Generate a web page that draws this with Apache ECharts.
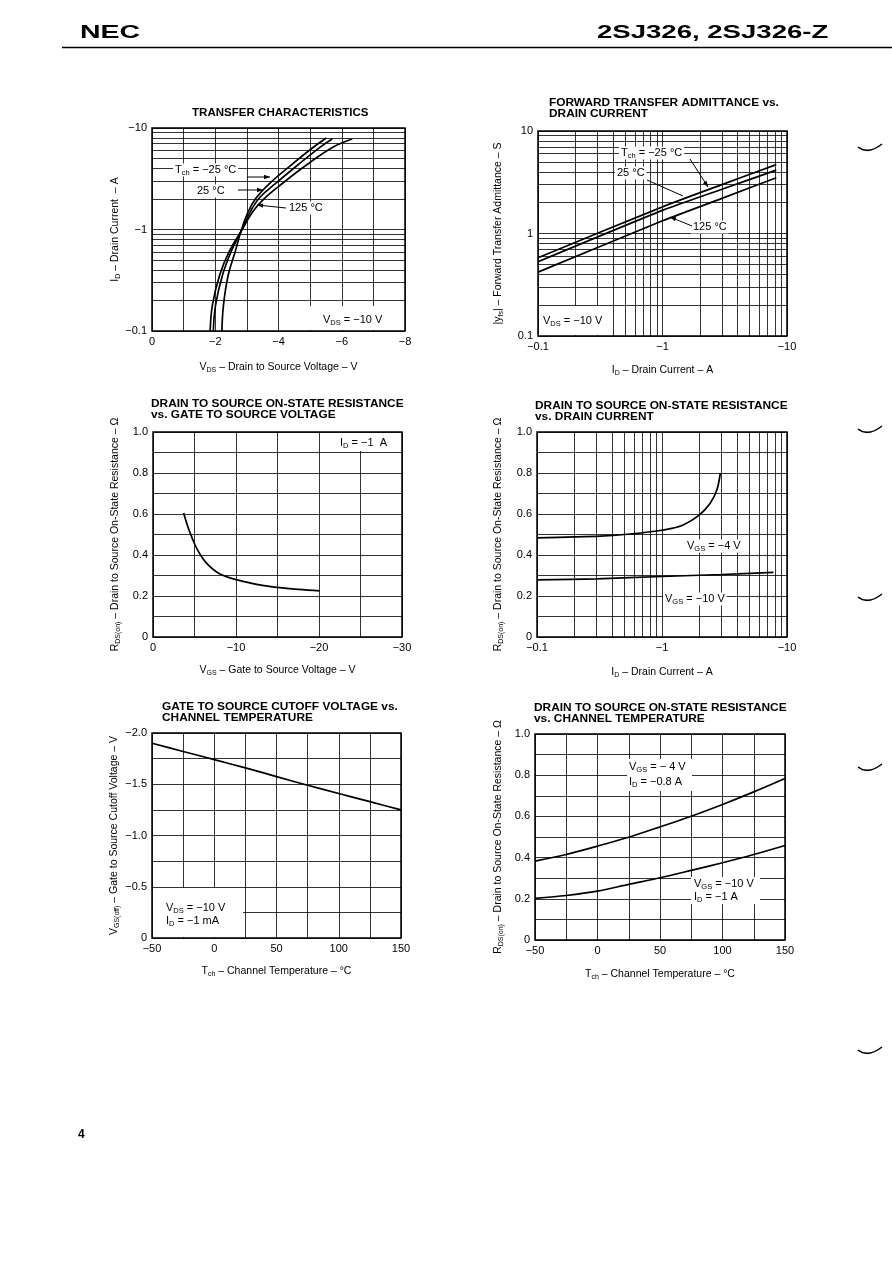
<!DOCTYPE html>
<html><head><meta charset="utf-8">
<script src="https://cdn.jsdelivr.net/npm/echarts@6/dist/echarts.min.js"></script>
<style>html,body{margin:0;padding:0;background:#fff}#c{width:892px;height:1263px}</style>
</head><body><div id="c"></div><script>
const FONT = '"Liberation Sans", Arial, Helvetica, sans-serif';
const MINUS = '\u2212';

// ---- Chart 1: Transfer characteristics (VGS in V, |ID| in A, ID negative) ----
const tc_vgs_m25  = [-2.21,-2.26,-2.41,-2.63,-2.81,-3.04,-3.29,-3.73,-4.43,-5.09,-5.51];
const tc_id_m25   = [0.10,0.180,0.356,0.604,0.951,1.49,2.04,2.87,4.39,6.42,7.97];
const tc_vgs_25   = [-1.94,-2.01,-2.23,-2.50,-2.81,-3.12,-3.42,-3.89,-4.59,-5.32,-5.70];
const tc_id_25    = [0.10,0.180,0.356,0.604,0.951,1.52,2.09,2.81,4.27,6.49,7.79];
const tc_vgs_125  = [-1.84,-1.91,-2.14,-2.44,-2.81,-3.18,-3.54,-4.02,-4.84,-5.73,-6.33];
const tc_id_125   = [0.10,0.180,0.356,0.604,0.951,1.49,2.00,2.68,4.22,6.49,7.79];

// ---- Chart 2: |yfs| vs |ID| ----
const yfs_id      = [0.1, 1, 3, 8.2];
const yfs_m25     = [0.58, 1.82, 3.00, 4.70];
const yfs_25      = [0.53, 1.68, 2.70, 4.15];
const yfs_125     = [0.42, 1.33, 2.20, 3.50];

// ---- Chart 3: RDS(on) vs VGS (ID = -1 A) ----
const rv_vgs = [-3.69,-4.10,-4.50,-5.00,-5.50,-6.00,-6.50,-7.00,-7.50,-8.00,-9.00,-10.0,-12.5,-15.0,-17.5,-20.08];
const rv_rds = [0.605,0.550,0.505,0.455,0.415,0.383,0.358,0.338,0.322,0.309,0.292,0.280,0.257,0.242,0.232,0.225];

// ---- Chart 4: RDS(on) vs |ID| ----
const ri_id_4   = [0.1,0.2,0.32,0.5,0.88,1.2,1.49,1.96,2.43,2.75,2.93];
const ri_rds_4  = [0.484,0.488,0.492,0.50,0.516,0.53,0.548,0.592,0.653,0.718,0.80];
const ri_id_10  = [0.1,0.3,1,3,7.8];
const ri_rds_10 = [0.279,0.284,0.295,0.305,0.315];

// ---- Chart 5: VGS(off) vs Tch ----
const temps     = [-50,-25,0,25,50,75,100,125,150];
const vgsoff    = [-1.90,-1.82,-1.74,-1.66,-1.575,-1.49,-1.41,-1.33,-1.25];

// ---- Chart 6: RDS(on) vs Tch ----
const rt_vgs4   = [0.383,0.415,0.456,0.499,0.549,0.601,0.658,0.719,0.784];
const rt_vgs10  = [0.202,0.216,0.237,0.27,0.302,0.338,0.375,0.415,0.459];

function zip(xs, ys){ return xs.map((x,i)=>[x, ys[i]]); }
function num(v){ return String(Number(Number(v).toPrecision(3))); }
const negMag = v => (v === 0 ? '0' : MINUS + num(Math.abs(v)));
const plainLog = v => num(v);
const oneDec = v => (v === 0 ? '0' : Number(v).toFixed(1));
const negOneDec = v => (v === 0 ? '0' : MINUS + Math.abs(v).toFixed(1));
const tempFmt = v => (v < 0 ? MINUS + (-v) : String(v));

const RICH = {
  n: {fontSize: 10.5, fontFamily: FONT, color: '#000', lineHeight: 13, verticalAlign: 'middle'},
  s: {fontSize: 7, fontFamily: FONT, color: '#000', lineHeight: 13, verticalAlign: 'bottom'}
};
const RICH2 = {
  n: {fontSize: 11, fontFamily: FONT, color: '#000', lineHeight: 13, verticalAlign: 'middle'},
  s: {fontSize: 7.5, fontFamily: FONT, color: '#000', lineHeight: 13, verticalAlign: 'bottom'}
};

const GRIDS = [
  {left:152, top:128, width:253, height:203},
  {left:538, top:131, width:249, height:205},
  {left:153, top:432, width:249, height:205},
  {left:537, top:432, width:250, height:205},
  {left:152, top:733, width:249, height:205},
  {left:535, top:734, width:250, height:206}
];

function baseAxis(gi, o){
  const a = {
    gridIndex: gi,
    type: o.type || 'value',
    min: o.min, max: o.max,
    inverse: !!o.inverse,
    axisLine: {show:false}, axisTick: {show:false},
    splitLine: {show:true, lineStyle:{color:'#000', width:0.8}},
    minorTick: {show:false, splitNumber: o.minor},
    minorSplitLine: {show:true, lineStyle:{color:'#000', width:0.8}},
    axisLabel: {color:'#000', fontSize:11, fontFamily:FONT, margin:5, formatter:o.fmt, showMinLabel:true, showMaxLabel:true},
    name: o.name, nameLocation:'middle', nameGap:o.gap,
    nameTextStyle: {color:'#000', fontSize:10.5, fontFamily:FONT, rich:RICH},
    silent: true
  };
  if (o.type === 'log') a.logBase = 10; else a.interval = o.interval;
  return a;
}

const xAxes = [
  baseAxis(0,{min:-8,max:0,interval:2,minor:2,inverse:true,fmt:negMag,gap:30,name:'{n|V}{s|DS}{n| \u2013 Drain to Source Voltage \u2013 V}'}),
  baseAxis(1,{type:'log',min:0.1,max:10,minor:9,fmt:negMag,gap:28,name:'{n|I}{s|D}{n| \u2013 Drain Current \u2013 A}'}),
  baseAxis(2,{min:-30,max:0,interval:10,minor:2,inverse:true,fmt:negMag,gap:27,name:'{n|V}{s|GS}{n| \u2013 Gate to Source Voltage \u2013 V}'}),
  baseAxis(3,{type:'log',min:0.1,max:10,minor:9,fmt:negMag,gap:29,name:'{n|I}{s|D}{n| \u2013 Drain Current \u2013 A}'}),
  baseAxis(4,{min:-50,max:150,interval:50,minor:2,fmt:tempFmt,gap:27,name:'{n|T}{s|ch}{n| \u2013 Channel Temperature \u2013 \u00b0C}'}),
  baseAxis(5,{min:-50,max:150,interval:50,minor:2,fmt:tempFmt,gap:28,name:'{n|T}{s|ch}{n| \u2013 Channel Temperature \u2013 \u00b0C}'})
];
const yAxes = [
  baseAxis(0,{type:'log',min:0.1,max:10,minor:9,fmt:negMag,gap:30,name:'{n|I}{s|D}{n| \u2013 Drain Current  \u2013 A}'}),
  baseAxis(1,{type:'log',min:0.1,max:10,minor:9,fmt:plainLog,gap:33,name:'{n||y}{s|fs}{n|| \u2013 Forward Transfer Admittance \u2013 S}'}),
  baseAxis(2,{min:0,max:1,interval:0.2,minor:2,fmt:oneDec,gap:31,name:'{n|R}{s|DS(on)}{n| \u2013 Drain to Source On-State Resistance \u2013 \u03a9}'}),
  baseAxis(3,{min:0,max:1,interval:0.2,minor:2,fmt:oneDec,gap:32,name:'{n|R}{s|DS(on)}{n| \u2013 Drain to Source On-State Resistance \u2013 \u03a9}'}),
  baseAxis(4,{min:-2,max:0,interval:0.5,minor:2,inverse:true,fmt:negOneDec,gap:31,name:'{n|V}{s|GS(off)}{n| \u2013 Gate to Source Cutoff Voltage \u2013 V}'}),
  baseAxis(5,{min:0,max:1,interval:0.2,minor:2,fmt:oneDec,gap:30,name:'{n|R}{s|DS(on)}{n| \u2013 Drain to Source On-State Resistance \u2013 \u03a9}'})
];

function line(gi, data, smooth){
  return {type:'line', xAxisIndex:gi, yAxisIndex:gi, data:data, symbol:'none', showSymbol:false,
    smooth: smooth === undefined ? 0.3 : smooth, lineStyle:{color:'#000', width:1.7}, silent:true, z:2};
}
const series = [
  line(0, zip(tc_vgs_m25, tc_id_m25), 0.4),
  line(0, zip(tc_vgs_25, tc_id_25), 0.4),
  line(0, zip(tc_vgs_125, tc_id_125), 0.4),
  line(1, zip(yfs_id, yfs_m25), 0.2),
  line(1, zip(yfs_id, yfs_25), 0.2),
  line(1, zip(yfs_id, yfs_125), 0.2),
  line(2, zip(rv_vgs, rv_rds), 0.4),
  line(3, zip(ri_id_4, ri_rds_4)),
  line(3, zip(ri_id_10, ri_rds_10)),
  line(4, zip(temps, vgsoff)),
  line(5, zip(temps, rt_vgs4)),
  line(5, zip(temps, rt_vgs10))
];

// ---- page decorations & annotations ----
const G = [];
function txt(x, y, text, opt){
  opt = opt || {};
  G.push({type:'text', x:x, y:y, z:5, silent:true,
    style:{text:text, fill:'#000', font:(opt.font||'10.5px '+FONT), textVerticalAlign:'middle', textAlign:'left'}});
}
function rtxt(x, y, text, bg){
  G.push({type:'text', x:x, y:y, z:5, silent:true,
    style:{text:text, rich:RICH2, textVerticalAlign:'middle', textAlign:'left', backgroundColor: bg ? '#fff' : null, padding: bg ? [0,2,0,2] : 0}});
}
function box(x1, y1, x2, y2){
  G.push({type:'rect', z:1, silent:true, shape:{x:x1, y:y1, width:x2-x1, height:y2-y1}, style:{fill:'#fff'}});
}
function seg(x1,y1,x2,y2,w){
  G.push({type:'line', z:5, silent:true, shape:{x1:x1,y1:y1,x2:x2,y2:y2}, style:{stroke:'#000', lineWidth:w||1}});
}
function arrow(x1,y1,x2,y2){
  seg(x1,y1,x2,y2,1);
  const dx=x2-x1, dy=y2-y1, L=Math.sqrt(dx*dx+dy*dy), ux=dx/L, uy=dy/L, h=6, w=2.2;
  const bx=x2-ux*h, by=y2-uy*h;
  G.push({type:'polygon', z:5, silent:true, shape:{points:[[x2,y2],[bx-uy*w,by+ux*w],[bx+uy*w,by-ux*w]]}, style:{fill:'#000'}});
}
function title(x, y, text, sx){
  G.push({type:'text', x:x, y:y, z:5, scaleX:sx||1.08, silent:true, style:{text:text, fill:'#000', font:'bold 11px '+FONT, lineHeight:11.5, textVerticalAlign:'top'}});
}

// header
G.push({type:'text', x:80, y:33, scaleX:1.5, z:5, silent:true, style:{text:'NEC', fill:'#000', font:'bold 19px '+FONT, textVerticalAlign:'middle'}});
G.push({type:'text', x:597, y:33, scaleX:1.45, z:5, silent:true, style:{text:'2SJ326, 2SJ326-Z', fill:'#000', font:'bold 19px '+FONT, textVerticalAlign:'middle'}});
seg(62, 47.5, 892, 47.5, 1.6);
txt(78, 1135, '4', {font:'bold 12px '+FONT});
// binding marks on right edge
[150, 432, 600, 770, 1053].forEach(function(y){
  G.push({type:'bezierCurve', z:5, silent:true, shape:{x1:858, y1:y-3, cpx1:868, cpy1:y+5, x2:882, y2:y-6}, style:{stroke:'#000', lineWidth:1.5, fill:null}});
});

// titles
title(192, 107, 'TRANSFER CHARACTERISTICS', 1.05);
title(549, 97, 'FORWARD TRANSFER ADMITTANCE vs.\nDRAIN CURRENT');
title(151, 398, 'DRAIN TO SOURCE ON-STATE RESISTANCE\nvs. GATE TO SOURCE VOLTAGE');
title(535, 400, 'DRAIN TO SOURCE ON-STATE RESISTANCE\nvs. DRAIN CURRENT');
title(162, 701, 'GATE TO SOURCE CUTOFF VOLTAGE vs.\nCHANNEL TEMPERATURE');
title(534, 702, 'DRAIN TO SOURCE ON-STATE RESISTANCE\nvs. CHANNEL TEMPERATURE');

// chart 1 annotations
rtxt(173, 170, '{n|T}{s|ch}{n| = \u221225 \u00b0C}', true);
arrow(247, 177, 270, 177);
rtxt(195, 191, '{n|25 \u00b0C}', true);
arrow(238, 190, 263, 190);
rtxt(287, 208, '{n|125 \u00b0C}', true);
arrow(286, 208, 257, 205);
box(309, 306, 404, 330);
rtxt(323, 320, '{n|V}{s|DS}{n| = \u221210 V}', false);

// chart 2 annotations
rtxt(619, 153, '{n|T}{s|ch}{n| = \u221225 \u00b0C}', true);
arrow(690, 159, 708, 187);
rtxt(615, 173, '{n|25 \u00b0C}', true);
seg(647, 180, 683, 196, 1);
rtxt(691, 227, '{n|125 \u00b0C}', true);
arrow(692, 226, 670, 217);
box(539, 306, 612, 335);
rtxt(543, 321, '{n|V}{s|DS}{n| = \u221210 V}', false);

// chart 3 annotation
box(321, 433, 401, 451);
rtxt(340, 443, '{n|I}{s|D}{n| = \u22121  A}', false);

// chart 4 annotations
rtxt(685, 546, '{n|V}{s|GS}{n| = \u22124 V}', true);
rtxt(663, 599, '{n|V}{s|GS}{n| = \u221210 V}', true);

// chart 5 annotation
box(153, 888, 243, 937);
rtxt(166, 908, '{n|V}{s|DS}{n| = \u221210 V}', false);
rtxt(166, 921, '{n|I}{s|D}{n| = \u22121 mA}', false);

// chart 6 annotations
box(627, 759, 692, 791);
rtxt(629, 767, '{n|V}{s|GS}{n| = \u2212 4 V}', false);
rtxt(629, 782, '{n|I}{s|D}{n| = \u22120.8 A}', false);
box(691, 877, 760, 904);
rtxt(694, 884, '{n|V}{s|GS}{n| = \u221210 V}', false);
rtxt(694, 897, '{n|I}{s|D}{n| = \u22121 A}', false);

const chart = echarts.init(document.getElementById('c'), null, {renderer:'canvas'});
chart.setOption({
  animation: false,
  backgroundColor: '#fff',
  textStyle: {fontFamily: FONT},
  grid: GRIDS.map(g => Object.assign({show:true, borderColor:'#000', borderWidth:1.5, backgroundColor:'rgba(0,0,0,0)', containLabel:false, outerBoundsMode:'none'}, g)),
  xAxis: xAxes,
  yAxis: yAxes,
  series: series,
  graphic: {elements: G}
});
</script></body></html>
